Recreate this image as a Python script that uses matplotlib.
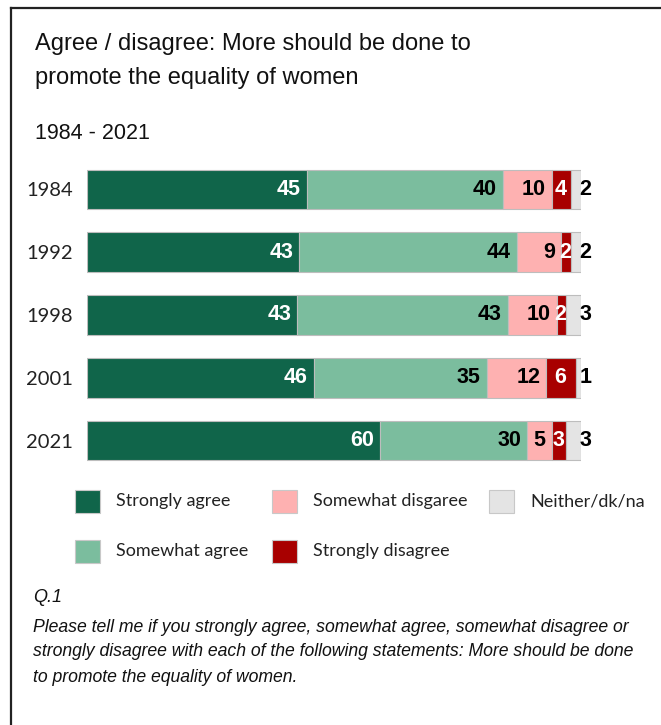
import matplotlib
matplotlib.use('Agg')
import matplotlib.pyplot as plt
from matplotlib.patches import Rectangle
from matplotlib.lines import Line2D

# data
years = ['1984', '1992', '1998', '2001', '2021']
strongly_agree = [45, 43, 43, 46, 60]
somewhat_agree = [40, 44, 43, 35, 30]
somewhat_disagree = [10, 9, 10, 12, 5]
strongly_disagree = [4, 2, 2, 6, 3]
neither = [2, 2, 3, 1, 3]

categories = ['Strongly agree', 'Somewhat agree', 'Somewhat disgaree',
              'Strongly disagree', 'Neither/dk/na']
colors = ['#10654a', '#7bbd9e', '#feb1b1', '#a80000', '#e4e4e4']
label_colors = ['white', 'black', 'black', 'white', 'black']

title = 'Agree / disagree: More should be done to\npromote the equality of women'
subtitle = '1984 - 2021'
question = 'Q.1'
note_lines = [
    'Please tell me if you strongly agree, somewhat agree, somewhat disagree or',
    'strongly disagree with each of the following statements: More should be done',
    'to promote the equality of women.',
]

W, H = 661, 725
NARROW = ['Lato', 'DejaVu Sans']
SANS = ['Liberation Sans', 'DejaVu Sans']

fig = plt.figure(figsize=(W / 100, H / 100), dpi=100)

# overlay in pixel coords for frame, titles, legend, note
ov = fig.add_axes([0, 0, 1, 1])
ov.set_xlim(0, W)
ov.set_ylim(H, 0)
ov.axis('off')

ov.add_line(Line2D([11, 11], [8, H], color='#222222', lw=1.6))
ov.add_line(Line2D([11, W], [8, 8], color='#222222', lw=1.6))

ov.text(35, 61, title, fontsize=17, family=SANS, va='center',
        linespacing=1.7, color='#111111')
ov.text(35, 133, subtitle, fontsize=15.5, family=SANS, va='center',
        color='#111111')

# bars
ax = fig.add_axes([87 / W, 1 - 472.15 / H, 494 / W, 314.3 / H])
series = [strongly_agree, somewhat_agree, somewhat_disagree,
          strongly_disagree, neither]
totals = [sum(v) for v in zip(*series)]
ypos = list(range(len(years)))
left = [0.0] * len(years)
for k, (vals, col) in enumerate(zip(series, colors)):
    widths = [v / t * 100 for v, t in zip(vals, totals)]
    ax.barh(ypos, widths, left=left, height=0.628, color=col,
            edgecolor='#bdbdbd', linewidth=0.8)
    for i, (v, w, l) in enumerate(zip(vals, widths, left)):
        if k in (0, 1, 2):
            xy, off, ha = (l + w, i), (-4.5, 0), 'right'
        elif k == 3:
            xy, off, ha = (l + w / 2, i), (-0.5, 0), 'center'
        else:
            xy, off, ha = (l + w, i), (-1, 0), 'left'
        ax.annotate(str(v), xy, xytext=off, textcoords='offset points',
                    ha=ha, va='center', fontsize=15.5, fontweight='bold',
                    family=SANS, color=label_colors[k])
    left = [a + b for a, b in zip(left, widths)]

ax.set_xlim(0, 100)
ax.set_ylim(len(years) - 0.5, -0.5)
ax.set_yticks(ypos)
ax.set_yticklabels(years, family=NARROW, fontsize=14.5, color='#222222')
ax.tick_params(axis='y', length=0, pad=10)
ax.set_xticks([])
for s in ax.spines.values():
    s.set_visible(False)
ax.patch.set_alpha(0)

# legend (row-major like the original)
leg_pos = [(75, 490), (75, 540), (272, 490), (272, 540), (489, 490)]
for name, col, (x, y) in zip(categories, colors, leg_pos):
    ov.add_patch(Rectangle((x, y), 25, 23, facecolor=col,
                           edgecolor='#c8c8c8', linewidth=0.8))
    ov.text(x + 41, y + 11, name, fontsize=13, family=NARROW,
            va='center', color='#222222')

ov.text(33, 598, question, fontsize=13, family=SANS, style='italic',
        va='center', color='#111111')
for j, line in enumerate(note_lines):
    ov.text(33, 627 + 25 * j, line, fontsize=12.7, family=SANS,
            style='italic', va='center', color='#111111')

fig.savefig('out.png', dpi=100)
